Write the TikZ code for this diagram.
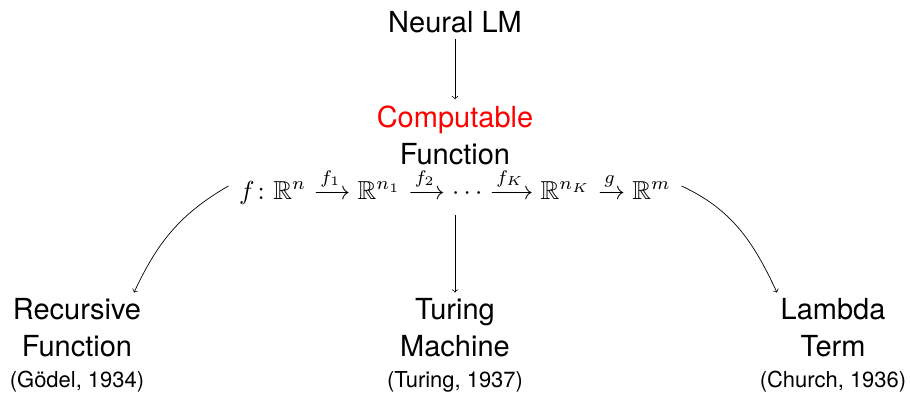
\documentclass[tikz,border=0pt]{standalone}
\usepackage{amsmath,amssymb}
\usepackage{fontspec}
\setmainfont{TeX Gyre Heros}
\usepackage{tikz}
\usepackage{xcolor}

\tikzset{
  big/.style={align=center,font=\fontsize{16.5}{21}\selectfont},
  year/.style={font=\fontsize{12.5}{15}\selectfont},
  arr/.style={->,thin}
}

\begin{document}
\begin{tikzpicture}[x=0.02cm,y=0.02cm]
\useasboundingbox (0,0) rectangle (910,398);
\node[big] (lm) at (455,376) {Neural LM};
\node[big] (comp) at (455,263) {{\color{red}Computable}\\Function};
\node[scale=1.48,inner sep=2pt] (map) at (455,212)
  {$f\colon \mathbb{R}^n \xrightarrow{f_1} \mathbb{R}^{n_1} \xrightarrow{f_2} \cdots \xrightarrow{f_K} \mathbb{R}^{n_K} \xrightarrow{g} \mathbb{R}^m$};
\node[big] (rec) at (77,70) {Recursive\\Function};
\node[big] (tur) at (455,70) {Turing\\Machine};
\node[big] (lam) at (833,70) {Lambda\\Term};
\node[year] (recy) at (77,16) {(Gödel, 1934)};
\node[year] (tury) at (455,16) {(Turing, 1937)};
\node[year] (lamy) at (833,16) {(Church, 1936)};
\draw[arr] (lm) -- (comp);
\draw[arr] ([yshift=-0.1cm]map.south) -- (tur);
\draw[arr] ([xshift=-0.1cm]map.west) to[out=210,in=65] ([xshift=1.14cm]rec.north);
\draw[arr] ([xshift=0.1cm]map.east) to[out=-25,in=115] ([xshift=-1.12cm]lam.north);
\end{tikzpicture}
\end{document}
